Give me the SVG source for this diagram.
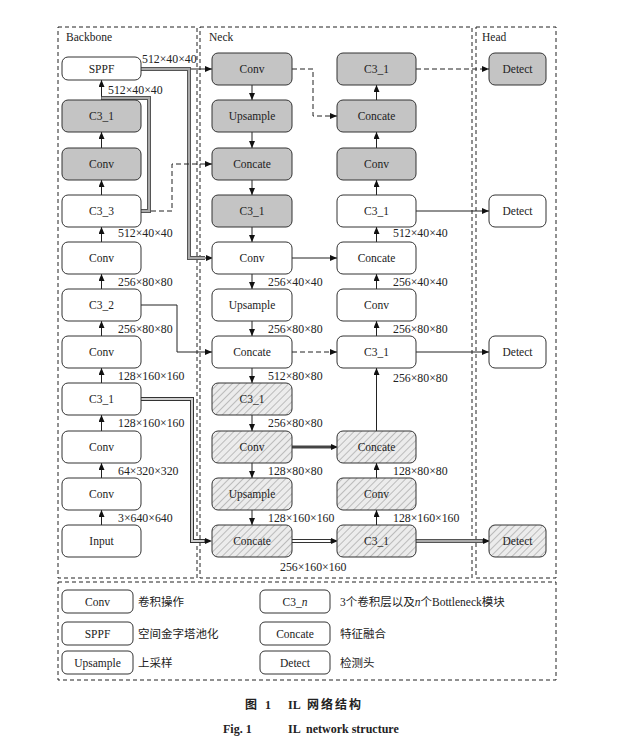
<svg xmlns="http://www.w3.org/2000/svg" width="627" height="747" viewBox="0 0 627 747">
<style>
.bg{fill:#fff}
.reg{fill:none;stroke:#222;stroke-width:1;stroke-dasharray:4,3}
.n{stroke:#333;stroke-width:1}
.w{fill:#fff}
.g{fill:#c4c4c4}
.h{fill:url(#hatch)}
text{font-family:"Liberation Serif","Times New Roman",serif;font-size:11.5px;fill:#222}
.t{text-anchor:middle}
.dm{font-size:11.8px}
.cn{font-family:"Liberation Serif","Noto Sans CJK SC",serif;font-size:11.5px}
.c{fill:none;stroke:#222;stroke-width:1}
.da{stroke-dasharray:5,3}
.o1{fill:none;stroke:#555;stroke-width:4}
.i1{fill:none;stroke:#aaa;stroke-width:2}
.o2{fill:none;stroke:#333;stroke-width:4}
.i2{fill:none;stroke:#d0d0d0;stroke-width:2}
.i3{fill:none;stroke:#fff;stroke-width:2}
.th{fill:none;stroke:#444;stroke-width:3}
.cap{font-weight:bold;font-size:12px}
</style>
<defs>
<pattern id="hatch" patternUnits="userSpaceOnUse" width="5" height="5" patternTransform="rotate(45)">
<rect width="5" height="5" fill="#ececec"/>
<line x1="0" y1="0" x2="0" y2="5" stroke="#8a8a8a" stroke-width="1"/>
</pattern>
<marker id="ah" viewBox="0 0 7 6" markerWidth="7" markerHeight="6" refX="7" refY="3" orient="auto" markerUnits="userSpaceOnUse">
<path d="M0,0 L7,3 L0,6 z" fill="#111"/>
</marker>
<marker id="ahb" viewBox="0 0 7 6" markerWidth="7" markerHeight="6" refX="0" refY="3" orient="auto" markerUnits="userSpaceOnUse">
<path d="M0,0 L7,3 L0,6 z" fill="#111"/>
</marker>
</defs>
<rect class="bg" width="627" height="747"/>

<g id="regions">
<rect class="reg" x="58" y="27" width="139" height="551"/>
<rect class="reg" x="200" y="27" width="272" height="551"/>
<rect class="reg" x="476" y="27" width="80" height="551"/>
<rect class="reg" x="58" y="582" width="498" height="98"/>
<text x="66" y="41">Backbone</text>
<text x="209" y="41">Neck</text>
<text x="482" y="41">Head</text>
</g>

<g id="connectors">
<path class="c" d="M101.5 525V510" marker-end="url(#ah)"/>
<path class="c" d="M101.5 478V463" marker-end="url(#ah)"/>
<path class="c" d="M101.5 431V415" marker-end="url(#ah)"/>
<path class="c" d="M101.5 383V368" marker-end="url(#ah)"/>
<path class="c" d="M101.5 336V321" marker-end="url(#ah)"/>
<path class="c" d="M101.5 289V274" marker-end="url(#ah)"/>
<path class="c" d="M101.5 242V227" marker-end="url(#ah)"/>
<path class="c" d="M101.5 195V180" marker-end="url(#ah)"/>
<path class="c" d="M101.5 148V132" marker-end="url(#ah)"/>
<path class="c" d="M101.5 100V80" marker-end="url(#ah)"/>
<path class="o1" d="M141 211H149V98H101.5"/>
<path class="i1" d="M141 211H149V98H101.5"/>
<path class="o1" d="M141 69H189V258H205"/>
<path class="i1" d="M141 69H189V258H205"/>
<path class="c" d="M205 258H206" marker-end="url(#ahb)"/>
<path class="c" d="M191 69H212" marker-end="url(#ah)"/>
<path class="c da" d="M151 211H172V164H212" marker-end="url(#ah)"/>
<path class="c" d="M141 305H177V352H212" marker-end="url(#ah)"/>
<path class="o2" d="M141 399H192V541H205"/>
<path class="i2" d="M141 399H192V541H205"/>
<path class="c" d="M204 541H205" marker-end="url(#ahb)"/>
<path class="c" d="M252 85V100" marker-end="url(#ah)"/>
<path class="c" d="M252 132V148" marker-end="url(#ah)"/>
<path class="c" d="M252 180V195" marker-end="url(#ah)"/>
<path class="c" d="M252 227V242" marker-end="url(#ah)"/>
<path class="c" d="M252 274V289" marker-end="url(#ah)"/>
<path class="c" d="M252 321V336" marker-end="url(#ah)"/>
<path class="c" d="M252 368V383" marker-end="url(#ah)"/>
<path class="c" d="M252 415V431" marker-end="url(#ah)"/>
<path class="c" d="M252 463V478" marker-end="url(#ah)"/>
<path class="c" d="M252 510V525" marker-end="url(#ah)"/>
<path class="c" d="M376.5 100V85" marker-end="url(#ah)"/>
<path class="c" d="M376.5 148V132" marker-end="url(#ah)"/>
<path class="c" d="M376.5 195V180" marker-end="url(#ah)"/>
<path class="c" d="M376.5 242V227" marker-end="url(#ah)"/>
<path class="c" d="M376.5 289V274" marker-end="url(#ah)"/>
<path class="c" d="M376.5 336V321" marker-end="url(#ah)"/>
<path class="c" d="M376.5 431V368" marker-end="url(#ah)"/>
<path class="c" d="M376.5 478V463" marker-end="url(#ah)"/>
<path class="c" d="M376.5 525V510" marker-end="url(#ah)"/>
<path class="c da" d="M292 69H313V116H337" marker-end="url(#ah)"/>
<path class="c" d="M292 258H337" marker-end="url(#ah)"/>
<path class="c da" d="M292 352H337" marker-end="url(#ah)"/>
<path class="th" d="M292 447H331"/>
<path class="c" d="M330 447H331" marker-end="url(#ahb)"/>
<path class="o2" d="M292 541H331"/>
<path class="i3" d="M292 541H331"/>
<path class="c" d="M330 541H331" marker-end="url(#ahb)"/>
<path class="c da" d="M416 69H489" marker-end="url(#ah)"/>
<path class="c" d="M416 211H489" marker-end="url(#ah)"/>
<path class="c" d="M416 352H489" marker-end="url(#ah)"/>
<path class="o1" d="M416 541H483"/>
<path class="i1" d="M416 541H483"/>
<path class="c" d="M482 541H483" marker-end="url(#ahb)"/>
</g>

<g id="dims">
<text class="dm" x="142" y="63">512×40×40</text>
<text class="dm" x="108" y="94">512×40×40</text>
<text class="dm" x="118" y="237">512×40×40</text>
<text class="dm" x="118" y="286">256×80×80</text>
<text class="dm" x="118" y="333">256×80×80</text>
<text class="dm" x="118" y="380">128×160×160</text>
<text class="dm" x="118" y="427">128×160×160</text>
<text class="dm" x="118" y="475">64×320×320</text>
<text class="dm" x="118" y="522">3×640×640</text>
<text class="dm" x="268" y="286">256×40×40</text>
<text class="dm" x="268" y="333">256×80×80</text>
<text class="dm" x="268" y="380">512×80×80</text>
<text class="dm" x="268" y="427">256×80×80</text>
<text class="dm" x="268" y="475">128×80×80</text>
<text class="dm" x="268" y="522">128×160×160</text>
<text class="dm" x="280" y="571">256×160×160</text>
<text class="dm" x="393" y="237">512×40×40</text>
<text class="dm" x="393" y="286">256×40×40</text>
<text class="dm" x="393" y="333">256×80×80</text>
<text class="dm" x="393" y="382">256×80×80</text>
<text class="dm" x="393" y="475">128×80×80</text>
<text class="dm" x="393" y="522">128×160×160</text>
</g>

<g id="bb-sppf"><rect class="n w" x="62" y="57" width="79" height="23" rx="6"/><text class="t" x="101.5" y="72.5">SPPF</text></g>
<g id="bb-c31a"><rect class="n g" x="62" y="100" width="79" height="32" rx="6"/><text class="t" x="101.5" y="120">C3_1</text></g>
<g id="bb-conv1"><rect class="n g" x="62" y="148" width="79" height="32" rx="6"/><text class="t" x="101.5" y="168">Conv</text></g>
<g id="bb-c33"><rect class="n w" x="62" y="195" width="79" height="32" rx="6"/><text class="t" x="101.5" y="215">C3_3</text></g>
<g id="bb-conv2"><rect class="n w" x="62" y="242" width="79" height="32" rx="6"/><text class="t" x="101.5" y="262">Conv</text></g>
<g id="bb-c32"><rect class="n w" x="62" y="289" width="79" height="32" rx="6"/><text class="t" x="101.5" y="309">C3_2</text></g>
<g id="bb-conv3"><rect class="n w" x="62" y="336" width="79" height="32" rx="6"/><text class="t" x="101.5" y="356">Conv</text></g>
<g id="bb-c31b"><rect class="n w" x="62" y="383" width="79" height="32" rx="6"/><text class="t" x="101.5" y="403">C3_1</text></g>
<g id="bb-conv4"><rect class="n w" x="62" y="431" width="79" height="32" rx="6"/><text class="t" x="101.5" y="451">Conv</text></g>
<g id="bb-conv5"><rect class="n w" x="62" y="478" width="79" height="32" rx="6"/><text class="t" x="101.5" y="498">Conv</text></g>
<g id="bb-input"><rect class="n w" x="62" y="525" width="79" height="32" rx="6"/><text class="t" x="101.5" y="545">Input</text></g>

<g id="n1-conv1"><rect class="n g" x="212" y="53" width="80" height="32" rx="6"/><text class="t" x="252" y="73">Conv</text></g>
<g id="n1-up1"><rect class="n g" x="212" y="100" width="80" height="32" rx="6"/><text class="t" x="252" y="120">Upsample</text></g>
<g id="n1-cat1"><rect class="n g" x="212" y="148" width="80" height="32" rx="6"/><text class="t" x="252" y="168">Concate</text></g>
<g id="n1-c31a"><rect class="n g" x="212" y="195" width="80" height="32" rx="6"/><text class="t" x="252" y="215">C3_1</text></g>
<g id="n1-conv2"><rect class="n w" x="212" y="242" width="80" height="32" rx="6"/><text class="t" x="252" y="262">Conv</text></g>
<g id="n1-up2"><rect class="n w" x="212" y="289" width="80" height="32" rx="6"/><text class="t" x="252" y="309">Upsample</text></g>
<g id="n1-cat2"><rect class="n w" x="212" y="336" width="80" height="32" rx="6"/><text class="t" x="252" y="356">Concate</text></g>
<g id="n1-c31b"><rect class="n h" x="212" y="383" width="80" height="32" rx="6"/><text class="t" x="252" y="403">C3_1</text></g>
<g id="n1-conv3"><rect class="n h" x="212" y="431" width="80" height="32" rx="6"/><text class="t" x="252" y="451">Conv</text></g>
<g id="n1-up3"><rect class="n h" x="212" y="478" width="80" height="32" rx="6"/><text class="t" x="252" y="498">Upsample</text></g>
<g id="n1-cat3"><rect class="n h" x="212" y="525" width="80" height="32" rx="6"/><text class="t" x="252" y="545">Concate</text></g>

<g id="n2-c31a"><rect class="n g" x="337" y="53" width="79" height="32" rx="6"/><text class="t" x="376.5" y="73">C3_1</text></g>
<g id="n2-cat1"><rect class="n g" x="337" y="100" width="79" height="32" rx="6"/><text class="t" x="376.5" y="120">Concate</text></g>
<g id="n2-conv1"><rect class="n g" x="337" y="148" width="79" height="32" rx="6"/><text class="t" x="376.5" y="168">Conv</text></g>
<g id="n2-c31b"><rect class="n w" x="337" y="195" width="79" height="32" rx="6"/><text class="t" x="376.5" y="215">C3_1</text></g>
<g id="n2-cat2"><rect class="n w" x="337" y="242" width="79" height="32" rx="6"/><text class="t" x="376.5" y="262">Concate</text></g>
<g id="n2-conv2"><rect class="n w" x="337" y="289" width="79" height="32" rx="6"/><text class="t" x="376.5" y="309">Conv</text></g>
<g id="n2-c31c"><rect class="n w" x="337" y="336" width="79" height="32" rx="6"/><text class="t" x="376.5" y="356">C3_1</text></g>
<g id="n2-cat3"><rect class="n h" x="337" y="431" width="79" height="32" rx="6"/><text class="t" x="376.5" y="451">Concate</text></g>
<g id="n2-conv3"><rect class="n h" x="337" y="478" width="79" height="32" rx="6"/><text class="t" x="376.5" y="498">Conv</text></g>
<g id="n2-c31d"><rect class="n h" x="337" y="525" width="79" height="32" rx="6"/><text class="t" x="376.5" y="545">C3_1</text></g>

<g id="h-det1"><rect class="n g" x="489" y="53" width="57" height="32" rx="6"/><text class="t" x="517.5" y="73">Detect</text></g>
<g id="h-det2"><rect class="n w" x="489" y="195" width="57" height="32" rx="6"/><text class="t" x="517.5" y="215">Detect</text></g>
<g id="h-det3"><rect class="n w" x="489" y="336" width="57" height="32" rx="6"/><text class="t" x="517.5" y="356">Detect</text></g>
<g id="h-det4"><rect class="n h" x="489" y="525" width="57" height="32" rx="6"/><text class="t" x="517.5" y="545">Detect</text></g>

<g id="legend">
<rect class="n w" x="62" y="590" width="71" height="23" rx="5"/><text class="t" x="97.5" y="605.5">Conv</text>
<text class="cn" x="138" y="605.5">卷积操作</text>
<rect class="n w" x="62" y="622" width="71" height="23" rx="5"/><text class="t" x="97.5" y="637.5">SPPF</text>
<text class="cn" x="138" y="637.5">空间金字塔池化</text>
<rect class="n w" x="62" y="651" width="71" height="23" rx="5"/><text class="t" x="97.5" y="666.5">Upsample</text>
<text class="cn" x="138" y="666.5">上采样</text>
<rect class="n w" x="260" y="590" width="70" height="23" rx="5"/><text class="t" x="295" y="605.5">C3_<tspan font-style="italic">n</tspan></text>
<text class="cn" x="340" y="605.5">3个卷积层以及<tspan font-style="italic">n</tspan>个Bottleneck模块</text>
<rect class="n w" x="260" y="622" width="70" height="23" rx="5"/><text class="t" x="295" y="637.5">Concate</text>
<text class="cn" x="340" y="637.5">特征融合</text>
<rect class="n w" x="260" y="651" width="70" height="23" rx="5"/><text class="t" x="295" y="666.5">Detect</text>
<text class="cn" x="340" y="666.5">检测头</text>
</g>

<g id="caption">
<text class="cap cn" font-weight="bold" font-size="12.5" x="245" y="709">图</text>
<text class="cap" x="265" y="709">1</text>
<text class="cap" x="288" y="709">IL</text>
<text class="cap cn" font-weight="bold" font-size="12.5" x="307" y="709" letter-spacing="2">网络结构</text>
<text class="cap" x="223" y="733">Fig. 1</text>
<text class="cap" x="288" y="733">IL</text>
<text class="cap" x="306" y="733">network structure</text>
</g>
</svg>
